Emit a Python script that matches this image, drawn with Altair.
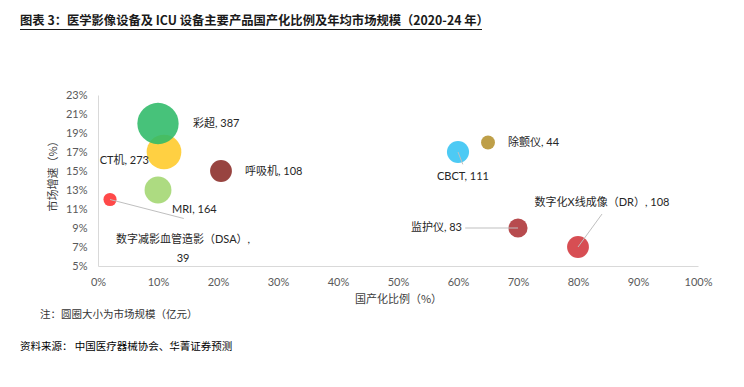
import altair as alt
import pandas as pd

# ---- data ----
names = ["CT机", "彩超", "呼吸机", "MRI", "数字减影血管造影（DSA）", "CBCT", "除颤仪", "监护仪", "数字化X线成像（DR）"]
localization = [0.11, 0.10, 0.205, 0.10, 0.02, 0.60, 0.65, 0.70, 0.80]   # 国产化比例
growth = [0.17, 0.20, 0.15, 0.13, 0.12, 0.17, 0.18, 0.09, 0.07]          # 市场增速
market = [273, 387, 108, 164, 39, 111, 44, 83, 108]                     # 市场规模（亿元）
colors = ["#FFC928", "#2DBA68", "#8A2A26", "#A2D670", "#FF3030", "#34C3F3", "#B5922F", "#AD3235", "#D2363B"]

x_ticks = [round(i * 0.1, 1) for i in range(11)]
y_ticks = [round(0.05 + i * 0.02, 2) for i in range(10)]

# label layout (pixel offsets from bubble centre, alignment)
label_layout = {
    "彩超": (35, 0, "left"),
    "CT机": (-15, 9, "right"),
    "呼吸机": (24, 1, "left"),
    "MRI": (14, 20, "left"),
    "数字减影血管造影（DSA）": (73, 40, "center"),
    "CBCT": (5, 25, "center"),
    "除颤仪": (20, 0, "left"),
    "监护仪": (-56, 0, "right"),
    "数字化X线成像（DR）": (24, -44, "center"),
}
# leader line end points (data units)
leaders = {
    "数字减影血管造影（DSA）": (0.143, 0.100),
    "CBCT": (0.608, 0.157),
    "监护仪": (0.612, 0.09),
    "数字化X线成像（DR）": (0.84, 0.1047),
}

df = pd.DataFrame({"name": names, "loc": localization, "growth": growth,
                   "market": market, "color": colors})
df["label"] = [
    (f"{n},\n{m}" if n.startswith("数字减影") else f"{n}, {m}")
    for n, m in zip(names, market)
]

lead_df = pd.DataFrame([
    {"name": n, "loc": df.loc[df.name == n, "loc"].iloc[0],
     "growth": df.loc[df.name == n, "growth"].iloc[0], "x2": v[0], "y2": v[1]}
    for n, v in leaders.items()
])

FONT = "Lato, Noto Sans CJK SC"
CJK = "Noto Sans CJK SC"

xscale = alt.Scale(domain=[0, 1], nice=False, zero=False)
yscale = alt.Scale(domain=[0.05, 0.23], nice=False, zero=False)

x_axis = alt.Axis(
    values=x_ticks, format=".0%", grid=False, ticks=False, domainColor="#D9D9D9",
    labelPadding=10, labelFontSize=11, labelColor="#595959", labelFont=FONT,
    labelOverlap=False, labelFlush=False,
    title="国产化比例（%）", titleFont=CJK, titleFontSize=11, titleFontWeight="normal",
    titleColor="#404040", titlePadding=6)
y_axis = alt.Axis(
    values=y_ticks, format=".0%", grid=False, ticks=False, domainColor="#D9D9D9",
    labelPadding=11, labelFontSize=11, labelColor="#595959", labelFont=FONT,
    labelOverlap=False, labelFlush=False,
    title="市场增速（%）", titleFont=CJK, titleFontSize=11, titleFontWeight="normal",
    titleColor="#404040", titlePadding=7, titleY=78)


def xe():
    return alt.X("loc:Q", scale=xscale, axis=x_axis)


def ye():
    return alt.Y("growth:Q", scale=yscale, axis=y_axis)


base = alt.Chart(df)

bubbles = base.mark_circle(opacity=0.88).encode(
    x=xe(), y=ye(),
    size=alt.Size("market:Q", scale=alt.Scale(domain=[0, 387], range=[0, 1706]), legend=None),
    color=alt.Color("color:N", scale=None),
    order=alt.Order("market:Q", sort="ascending"),
)

lines = alt.Chart(lead_df).mark_rule(color="#BFBFBF", strokeWidth=1).encode(
    x=xe(), y=ye(), x2="x2:Q", y2="y2:Q",
)

label_layers = []
for n, (dx, dy, al) in label_layout.items():
    label_layers.append(
        base.transform_filter(alt.datum.name == n).mark_text(
            dx=dx, dy=dy, align=al, baseline="middle", font=FONT, fontSize=11,
            color="#262626", lineBreak="\n", lineHeight=19,
        ).encode(x=xe(), y=ye(), text="label:N")
    )

one = pd.DataFrame({"a": [0]})
title_txt = alt.Chart(one).mark_text(
    align="left", baseline="middle", font=CJK, fontSize=12.3, fontWeight="bold", color="#1A1A1A"
).encode(x=alt.value(-78), y=alt.value(-74),
         text=alt.value("图表 3：医学影像设备及 ICU 设备主要产品国产化比例及年均市场规模（2020-24 年）"))
underline = alt.Chart(one).mark_rule(color="#1A1A1A", strokeWidth=1).encode(
    x=alt.value(-78), x2=alt.value(384), y=alt.value(-65.5))
note1 = alt.Chart(one).mark_text(
    align="left", baseline="middle", font=CJK, fontSize=10.5, color="#333333"
).encode(x=alt.value(-58), y=alt.value(220), text=alt.value("注：圆圈大小为市场规模（亿元）"))
note2 = alt.Chart(one).mark_text(
    align="left", baseline="middle", font=CJK, fontSize=10.5, color="#000000"
).encode(x=alt.value(-78), y=alt.value(251.7), text=alt.value("资料来源： 中国医疗器械协会、华菁证券预测"))

chart = alt.layer(bubbles, lines, *label_layers, title_txt, underline, note1, note2).properties(
    width=600, height=171,
    autosize=alt.AutoSizeParams(type="none"),
    padding={"left": 90, "top": 87, "right": 38, "bottom": 113},
    background="white",
).configure_view(stroke=None).configure_axis(labelOverlap=False)

chart.save("out.html", embed_options={"renderer": "svg", "actions": False})
